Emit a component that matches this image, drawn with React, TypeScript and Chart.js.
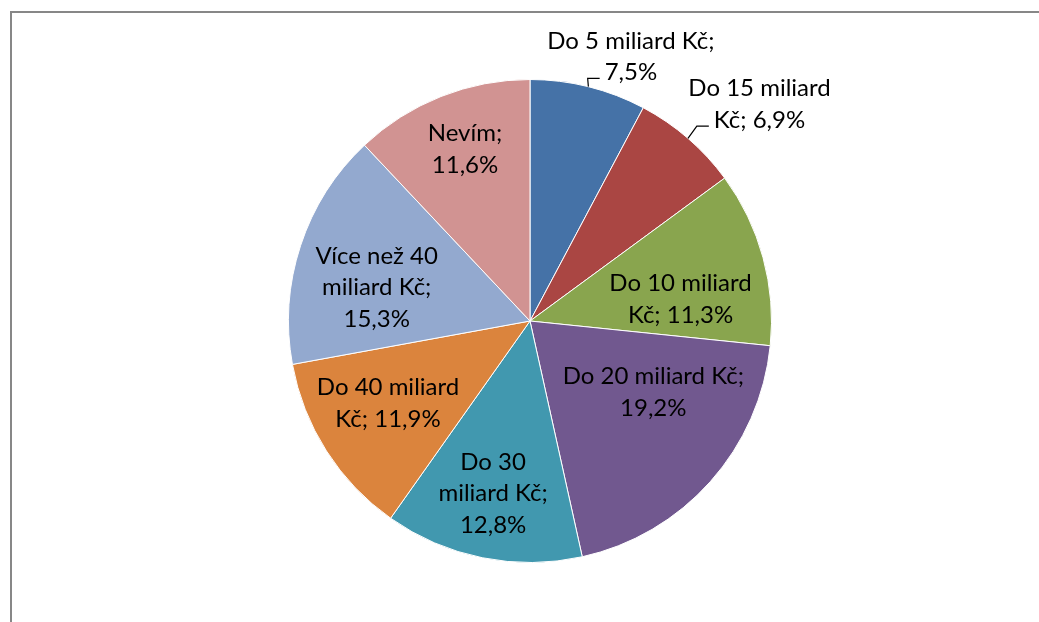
import React, { useEffect, useRef } from "react";
import { Chart, registerables } from "chart.js";

Chart.register(...registerables);

const categories = [
  "Do 5 miliard Kč",
  "Do 15 miliard Kč",
  "Do 10 miliard Kč",
  "Do 20 miliard Kč",
  "Do 30 miliard Kč",
  "Do 40 miliard Kč",
  "Více než 40 miliard Kč",
  "Nevím",
];
const values = [7.5, 6.9, 11.3, 19.2, 12.8, 11.9, 15.3, 11.6];
const colors = ["#4572A7", "#AA4643", "#89A54E", "#71588F", "#4198AF", "#DB843D", "#93A9CF", "#D19392"];
// how many words go on each line of a data label
const labelLineWords = [[4, 1], [3, 2], [3, 2], [4, 1], [2, 2, 1], [3, 2], [3, 2, 1], [1, 1]];

const FONT = "24px Lato";
const LINE_H = 31.5;
// label placement: radial fraction of radius, angular nudge (deg), leader line
const placement = [
  { r: 1.172, da: 6.9, leader: true },
  { r: 1.307, da: 5.8, leader: true },
  { r: 0.63, da: 6.9, leader: false },
  { r: 0.59, da: -11.6, leader: false },
  { r: 0.73, da: 0.7, leader: false },
  { r: 0.68, da: 2.4, leader: false },
  { r: 0.65, da: -5.8, leader: false },
  { r: 0.76, da: 0.9, leader: false },
];

function labelLines(i: number): string[] {
  const text = `${categories[i]}; ${values[i].toFixed(1).replace(".", ",")}%`;
  const words = text.split(" ");
  const out: string[] = [];
  let k = 0;
  for (const n of labelLineWords[i]) {
    out.push(words.slice(k, k + n).join(" "));
    k += n;
  }
  return out;
}

const framePlugin = {
  id: "frame",
  beforeDraw(chart: any) {
    const ctx = chart.ctx;
    ctx.save();
    ctx.fillStyle = "#ffffff";
    ctx.fillRect(0, 0, chart.width, chart.height);
    ctx.fillStyle = "#878787";
    ctx.fillRect(10, 11, chart.width - 10, 2);
    ctx.fillRect(10, 11, 2, chart.height - 11);
    ctx.restore();
  },
};

const labelPlugin = {
  id: "sliceLabels",
  afterDatasetsDraw(chart: any) {
    const ctx = chart.ctx;
    const meta = chart.getDatasetMeta(0);
    ctx.save();
    ctx.font = FONT;
    ctx.fillStyle = "#000";
    ctx.strokeStyle = "#000";
    ctx.lineWidth = 1.2;
    ctx.textAlign = "center";
    ctx.textBaseline = "middle";
    meta.data.forEach((arc: any, i: number) => {
      const { x, y, startAngle, endAngle, outerRadius } = arc.getProps(
        ["x", "y", "startAngle", "endAngle", "outerRadius"],
        true
      );
      const mid = (startAngle + endAngle) / 2;
      const pl = placement[i];
      const a = mid + (pl.da * Math.PI) / 180;
      const cx = x + Math.cos(a) * outerRadius * pl.r;
      const cy = y + Math.sin(a) * outerRadius * pl.r;
      const lines = labelLines(i);
      const top = cy - ((lines.length - 1) * LINE_H) / 2;
      lines.forEach((t, k) => ctx.fillText(t, cx, top + k * LINE_H));
      if (pl.leader) {
        const px = x + Math.cos(mid) * outerRadius;
        const py = y + Math.sin(mid) * outerRadius;
        const last = lines[lines.length - 1];
        const w = ctx.measureText(last).width;
        const ax = cx - w / 2 - 5;
        const ay = top + (lines.length - 1) * LINE_H + 6;
        ctx.beginPath();
        ctx.moveTo(px, py);
        ctx.lineTo(ax - 12, ay);
        ctx.lineTo(ax, ay);
        ctx.stroke();
      }
    });
    ctx.restore();
  },
};

export default function App() {
  const ref = useRef<HTMLCanvasElement>(null);
  useEffect(() => {
    if (!ref.current) return;
    const chart = new Chart(ref.current, {
      type: "pie",
      data: {
        labels: categories,
        datasets: [
          {
            data: values,
            backgroundColor: colors,
            borderColor: "#ffffff",
            borderWidth: 1,
          },
        ],
      },
      options: {
        responsive: false,
        animation: false,
        layout: { padding: { left: 288, right: 267, top: 79, bottom: 59 } },
        plugins: { legend: { display: false }, tooltip: { enabled: false } },
      },
      plugins: [framePlugin, labelPlugin],
    });
    return () => chart.destroy();
  }, []);
  return (
    <div style={{ position: "absolute", left: 0, top: 0, width: 1039, height: 622 }}>
      <canvas ref={ref} width={1039} height={622} style={{ display: "block" }} />
    </div>
  );
}
